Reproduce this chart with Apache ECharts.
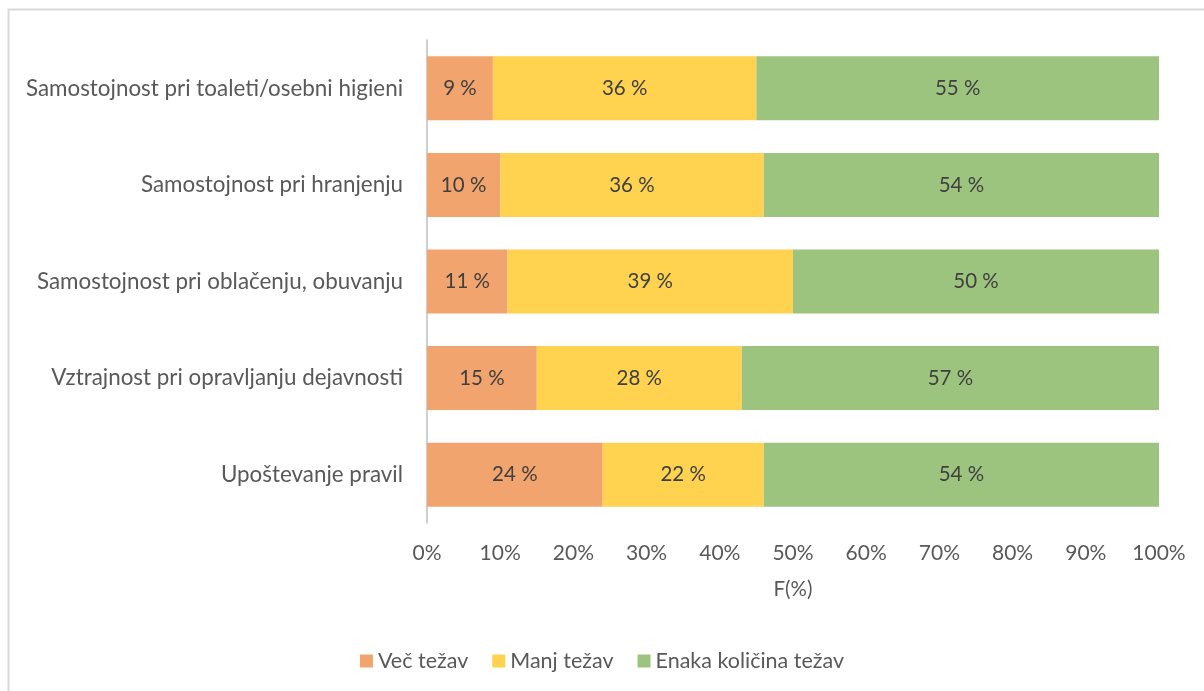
<!DOCTYPE html>
<html>
<head>
<meta charset="utf-8">
<script src="https://cdn.jsdelivr.net/npm/echarts@6/dist/echarts.min.js"></script>
<style>
  html, body { margin: 0; padding: 0; background: #fff; }
  #main { width: 1204px; height: 691px; }
</style>
</head>
<body>
<div id="main"></div>
<script>
// categories, bottom to top (as ECharts draws a category y axis)
var categories = [
  'Upoštevanje pravil',
  'Vztrajnost pri opravljanju dejavnosti',
  'Samostojnost pri oblačenju, obuvanju',
  'Samostojnost pri hranjenju',
  'Samostojnost pri toaleti/osebni higieni'
];
var vecTezav = [24, 15, 11, 10, 9];
var manjTezav = [22, 28, 39, 36, 36];
var enakaTezav = [54, 57, 50, 54, 55];
var seriesNames = ['Več težav', 'Manj težav', 'Enaka količina težav'];
var colors = ['#F2A46F', '#FFD250', '#9DC47E'];

var chart = echarts.init(document.getElementById('main'));
var font = 'Lato, "Open Sans", sans-serif';

function makeSeries(name, data, color) {
  return {
    name: name,
    type: 'bar',
    stack: 'total',
    data: data,
    barWidth: 64,
    itemStyle: { color: color },
    label: {
      show: true,
      position: 'inside',
      formatter: '{c} %',
      color: '#404040',
      fontFamily: font,
      fontSize: 20.5
    }
  };
}

chart.setOption({
  animation: false,
  textStyle: { fontFamily: font },
  graphic: [{
    type: 'rect',
    shape: { x: 8.5, y: 9.5, width: 1220, height: 720 },
    style: { fill: 'none', stroke: '#d9d9d9', lineWidth: 2 },
    silent: true
  }],
  grid: { left: 427, right: 45, top: 40, bottom: 168 },
  xAxis: {
    type: 'value',
    min: 0,
    max: 100,
    interval: 10,
    name: 'F(%)',
    nameLocation: 'middle',
    nameGap: 56,
    nameTextStyle: { color: '#595959', fontSize: 20.5, fontFamily: font },
    axisLabel: { formatter: '{value}%', color: '#595959', fontSize: 21, margin: 20, fontFamily: font },
    axisLine: { show: false },
    axisTick: { show: false },
    splitLine: { show: false }
  },
  yAxis: {
    type: 'category',
    data: categories,
    axisLine: { show: true, lineStyle: { color: '#bfbfbf', width: 1.5 } },
    axisTick: { show: false },
    axisLabel: { color: '#595959', fontSize: 22.4, margin: 24, fontFamily: font }
  },
  legend: {
    bottom: 14,
    left: 'center',
    itemWidth: 13,
    itemHeight: 13,
    itemGap: 24,
    icon: 'rect',
    textStyle: { color: '#595959', fontSize: 21.5, fontFamily: font },
    data: seriesNames
  },
  series: [
    makeSeries(seriesNames[0], vecTezav, colors[0]),
    makeSeries(seriesNames[1], manjTezav, colors[1]),
    makeSeries(seriesNames[2], enakaTezav, colors[2])
  ]
});
</script>
</body>
</html>
